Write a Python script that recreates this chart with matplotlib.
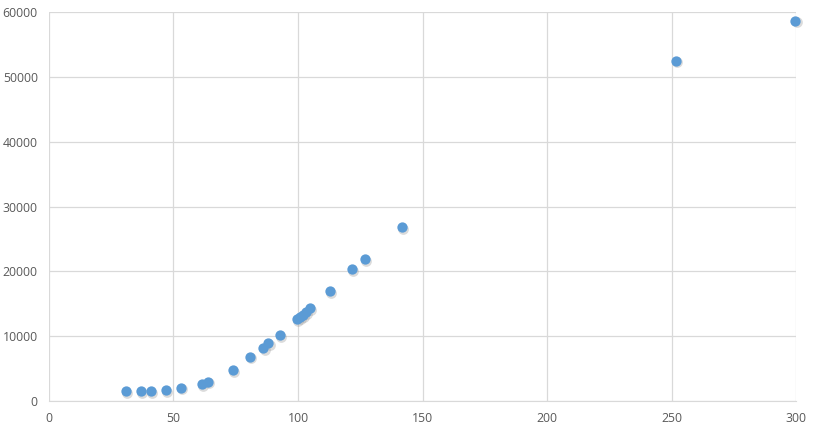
import matplotlib
matplotlib.use('Agg')
from matplotlib import pyplot as plt

# values
x_vals = [30.8, 36.9, 41, 47, 52.9, 61.3, 63.7, 74, 80.7, 86.1, 88.1, 92.8,
          99.6, 100.8, 102, 103.2, 104.8, 112.9, 121.7, 126.9, 141.8, 251.8, 299.6]
y_vals = [1540, 1540, 1540, 1700, 2050, 2620, 2970, 4770, 6820, 8130, 8890, 10160,
          12630, 12940, 13240, 13710, 14320, 16940, 20330, 21870, 26800, 52520, 58680]
x_ticks = [0, 50, 100, 150, 200, 250, 300]
y_ticks = [0, 10000, 20000, 30000, 40000, 50000, 60000]

plt.rcParams['font.family'] = ['Open Sans', 'DejaVu Sans']

fig = plt.figure(figsize=(8.15, 4.33), dpi=100)
ax = fig.add_axes([0.06, 0.074, 0.917, 0.898])

# soft shadow under each marker, like the spreadsheet export
ax.scatter([x + 0.5 for x in x_vals], [y - 250 for y in y_vals], s=60,
           color='#9a9a9a', alpha=0.35, linewidths=0, zorder=2, clip_on=False)
ax.scatter(x_vals, y_vals, s=55, color='#5B9BD5', linewidths=0, zorder=3,
           clip_on=False)

ax.set_xlim(0, 300)
ax.set_ylim(0, 60000)
ax.set_xticks(x_ticks)
ax.set_yticks(y_ticks)
ax.grid(True, color='#D9D9D9', linewidth=0.9)
ax.set_axisbelow(True)
for side in ['top', 'right', 'left']:
    ax.spines[side].set_visible(False)
ax.spines['bottom'].set_color('#D9D9D9')
ax.tick_params(length=0, colors='#595959', labelsize=8.8, pad=8)

plt.savefig('out.png', dpi=100)
